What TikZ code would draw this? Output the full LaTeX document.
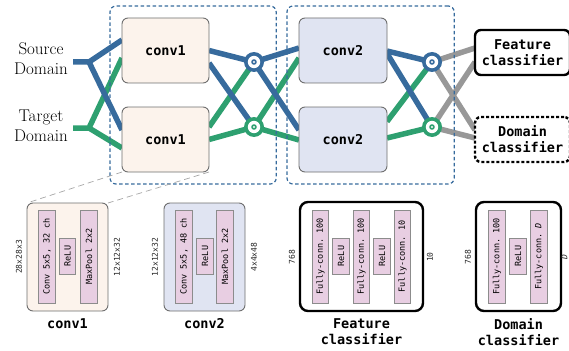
\documentclass[tikz,border=0pt]{standalone}
\usepackage{fontspec}
\setmonofont{DejaVu Sans Mono}
\usepackage{xcolor}
\usepackage{tikz}
\usetikzlibrary{positioning,fit,calc,backgrounds}

\definecolor{srcblue}{RGB}{55,107,157}
\definecolor{tgtgreen}{RGB}{46,160,112}
\definecolor{mixgray}{RGB}{152,152,152}
\definecolor{boxgray}{RGB}{110,110,110}
\definecolor{peach}{RGB}{252,243,236}
\definecolor{lavender}{RGB}{224,228,242}
\definecolor{layerpink}{RGB}{232,206,226}
\definecolor{layergray}{RGB}{140,140,140}

\begin{document}
\begin{tikzpicture}[
    x=1pt, y=-1pt,
    convA/.style={draw=boxgray, fill=peach, line width=0.9pt, rounded corners=6pt,
                  minimum width=87pt, minimum height=65pt, inner sep=0pt, outer sep=0pt,
                  font=\ttfamily\bfseries\fontsize{13.5}{16}\selectfont},
    convB/.style={convA, fill=lavender, minimum width=88pt},
    clf/.style={draw, line width=2.4pt, fill=white, rounded corners=6pt, align=center,
                minimum width=95pt, minimum height=45pt, inner sep=0pt, outer sep=0pt,
                font=\ttfamily\bfseries\fontsize{13.5}{16}\selectfont},
    clfdash/.style={clf, dash pattern=on 3pt off 2pt},
    merge/.style={circle, fill=#1, minimum size=20pt, inner sep=0pt,
                  path picture={
                    \fill[white] (path picture bounding box.center) circle (6.2pt);
                    \fill[#1] (path picture bounding box.center) circle (2.8pt);
                    \fill[white] (path picture bounding box.center) circle (1.1pt);}},
    frame/.style={draw=srcblue, line width=1.2pt, dash pattern=on 3.5pt off 2.5pt,
                  rounded corners=6pt, inner sep=12pt},
    src/.style={draw=srcblue, line width=5.5pt},
    tgt/.style={draw=tgtgreen, line width=5.5pt},
    mix/.style={draw=mixgray, line width=5.5pt},
    dom/.style={align=center, inner sep=0pt, font=\fontsize{17}{20}\selectfont},
    detail/.style={draw=boxgray, line width=0.9pt, rounded corners=6pt,
                   minimum width=81pt, minimum height=108pt, inner sep=0pt, outer sep=0pt},
    clfbox/.style={draw=black, fill=white, line width=2.4pt, rounded corners=8pt,
                   minimum height=109pt, inner sep=0pt},
    layer/.style={draw=layergray, fill=layerpink, line width=0.8pt, rotate=90,
                  inner sep=0pt, minimum width=93pt, minimum height=16.5pt,
                  font=\ttfamily\fontsize{8.5}{10}\selectfont},
    act/.style={layer, minimum width=36pt},
    dim/.style={rotate=90, inner sep=0pt, text=black!85,
                font=\ttfamily\fontsize{8}{9}\selectfont},
    ttl/.style={anchor=north, inner sep=0pt, align=center,
                font=\ttfamily\bfseries\fontsize{13.5}{16}\selectfont},
    zoomln/.style={draw=black!35, line width=0.7pt, dash pattern=on 6pt off 4pt},
]
\useasboundingbox (0,0) rectangle (569,350);

%% ── Domain inputs ───────────────────────────────────────────────────────────
\node[dom] (srcLbl) at (41, 59) {Source\\Domain};
\node[dom] (tgtLbl) at (41,126) {Target\\Domain};
\coordinate (srcIn)   at (73, 62);
\coordinate (srcFork) at (89, 62);
\coordinate (tgtIn)   at (73,128);
\coordinate (tgtFork) at (89,128);

%% ── Shared conv blocks and merge points ─────────────────────────────────────
\node[convA] (c1a) at (165.5, 50.5) {conv1};
\node[convA] (c1b) at (165.5,139.5) {conv1};
\node[convB] (c2a) at (343,   50.5) {conv2};
\node[convB] (c2b) at (343,  139.5) {conv2};

\node[merge=srcblue]  (srcM1) at (254, 62) {};
\node[merge=tgtgreen] (tgtM1) at (254,127) {};
\node[merge=srcblue]  (srcM2) at (432, 62) {};
\node[merge=tgtgreen] (tgtM2) at (432,127) {};

%% ── Heads ───────────────────────────────────────────────────────────────────
\node[clf]     (fc) at (522.5, 52.5) {Feature\\classifier};
\node[clfdash] (dc) at (522.5,139.5) {Domain\\classifier};

%% ── Streams, kept under the boxes ───────────────────────────────────────────
\begin{scope}[on background layer]
  % target (green) first, source (blue) over it
  \draw[tgt] (tgtIn) -- (tgtFork) -- ([yshift=-7.5pt]c1a.west);
  \draw[tgt] (tgtFork) -- ([yshift=-8.5pt]c1b.west);
  \draw[src] (srcIn) -- (srcFork) -- ([yshift=10.5pt]c1a.west);
  \draw[src] (srcFork) -- ([yshift=9.5pt]c1b.west);

  \draw[tgt] ([yshift=12.5pt]c1b.east) -- (srcM1.center);
  \draw[tgt] (c1b.east) -- (tgtM1.center);
  \draw[tgt] (tgtM1.center) -- ([yshift=-7.5pt]c2a.west);
  \draw[tgt] (tgtM1.center) -- ([yshift=-0.5pt]c2b.west);
  \draw[tgt] ([yshift=18pt]c2b.east) -- (srcM2.center);
  \draw[tgt] ([yshift=1.5pt]c2b.east) -- (tgtM2.center);

  \draw[src] (c1a.east) -- (srcM1.center);
  \draw[src] ([yshift=-12.5pt]c1a.east) -- (tgtM1.center);
  \draw[src] (srcM1.center) -- ([yshift=2.5pt]c2a.west);
  \draw[src] (srcM1.center) -- ([yshift=9.5pt]c2b.west);
  \draw[src] ([yshift=-0.5pt]c2a.east) -- (srcM2.center);
  \draw[src] ([yshift=-3pt]c2a.east) -- (tgtM2.center);

  \draw[mix] (srcM2.center) -- ([yshift=4.5pt]fc.west);
  \draw[mix] (srcM2.center) -- ([yshift=9.5pt]dc.west);
  \draw[mix] (tgtM2.center) -- ([yshift=-9.5pt]fc.west);
  \draw[mix] (tgtM2.center) -- ([yshift=1.5pt]dc.west);
\end{scope}

%% ── Dashed groups ───────────────────────────────────────────────────────────
\node[frame, fit=(c1a)(c1b)(srcM1)(tgtM1)] (grp1) {};
\node[frame, fit=(c2a)(c2b)(srcM2)(tgtM2)] (grp2) {};

%% ── Detail: conv1 ───────────────────────────────────────────────────────────
\node[detail, fill=peach] (d1) at (67.5,257) {};
\node[layer] (d1conv) at (47,  256.5) {Conv 5x5, 32 ch};
\node[act]   (d1relu) at (67.5,256)   {ReLU};
\node[layer] (d1pool) at (89,  256.5) {MaxPool 2x2};
\node[dim] at (19, 257) {28x28x3};
\node[dim] at (117,257) {12x12x32};
\node[ttl] (lblC1) at (67.5,318) {conv1};

\draw[zoomln] (c1b.south west) -- (d1.north west);
\draw[zoomln] (c1b.south east) -- (d1.north east);

%% ── Detail: conv2 ───────────────────────────────────────────────────────────
\node[detail, fill=lavender] (d2) at (204.5,257) {};
\node[layer] (d2conv) at (184,256.5) {Conv 5x5, 48 ch};
\node[act]   (d2relu) at (205,256)   {ReLU};
\node[layer] (d2pool) at (225,256.5) {MaxPool 2x2};
\node[dim] at (155,257) {12x12x32};
\node[dim] at (254,257) {4x4x48};
\node[ttl] (lblC2) at (204.5,318) {conv2};

%% ── Detail: feature classifier ──────────────────────────────────────────────
\node[clfbox, minimum width=123pt] (d3) at (361.5,256.5) {};
\node[layer] (d3fcA) at (320.5,256.5) {Fully-conn. 100};
\node[act]   (d3reA) at (341,  256)   {ReLU};
\node[layer] (d3fcB) at (361.5,256.5) {Fully-conn. 100};
\node[act]   (d3reB) at (382,  256)   {ReLU};
\node[layer] (d3fcC) at (402.5,256.5) {Fully-conn. 10};
\node[dim] at (292,257) {768};
\node[dim] at (430,257) {10};
\node[ttl] (lblFc) at (361.5,318) {Feature\\classifier};

%% ── Detail: domain classifier ───────────────────────────────────────────────
\node[clfbox, minimum width=85pt] (d4) at (518.5,256.5) {};
\node[layer] (d4fcA) at (497,256.5) {Fully-conn. 100};
\node[act]   (d4reA) at (518,256)   {ReLU};
\node[layer] (d4fcB) at (539,256.5) {Fully-conn. \textit{D}};
\node[dim] at (468,257) {768};
\node[dim] at (564.5,257) {\textit{D}};
\node[ttl] (lblDc) at (518.5,318) {Domain\\classifier};

\end{tikzpicture}
\end{document}
